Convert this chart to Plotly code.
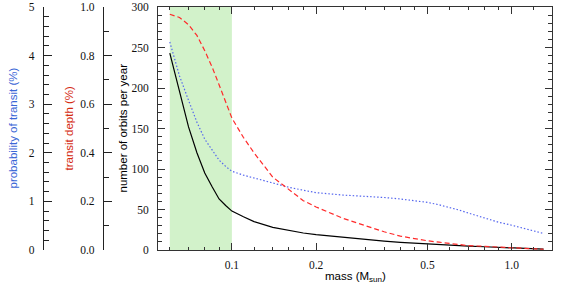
import plotly.graph_objects as go

# ---------------- data ----------------
mass = [0.06, 0.065, 0.07, 0.075, 0.08, 0.085, 0.09, 0.095, 0.1, 0.11, 0.12, 0.14, 0.16,
        0.18, 0.2, 0.25, 0.3, 0.35, 0.4, 0.45, 0.5, 0.55, 0.6, 0.65, 0.7, 0.8, 0.9, 1.0,
        1.1, 1.2, 1.3]

orbits_per_year = [243, 196, 152, 120, 95, 78, 63, 55, 48, 41, 35, 28, 24,
                   21, 19, 15.5, 13, 11, 9.5, 8.4, 7.5, 6.7, 6, 5.4, 4.8, 4, 3.2, 2.5,
                   2, 1.5, 1]

transit_depth = [0.970, 0.957, 0.927, 0.883, 0.820, 0.753, 0.680, 0.607, 0.543, 0.463, 0.400,
                 0.300, 0.248, 0.203, 0.177, 0.130, 0.100, 0.075, 0.057, 0.046, 0.038, 0.032,
                 0.027, 0.022, 0.018, 0.015, 0.011, 0.008, 0.007, 0.005, 0.003]

prob_transit = [4.28, 3.58, 3.08, 2.63, 2.28, 2.05, 1.85, 1.72, 1.62, 1.54, 1.48, 1.37, 1.29,
                1.23, 1.18, 1.13, 1.11, 1.08, 1.05, 1.02, 0.98, 0.93, 0.88, 0.82, 0.76, 0.66,
                0.57, 0.51, 0.45, 0.39, 0.34]

band = [0.06, 0.1]

x_major = [0.1, 0.2, 0.5, 1.0]
x_major_text = ["0.1", "0.2", "0.5", "1.0"]
x_minor = [0.06, 0.07, 0.08, 0.09, 0.12, 0.14, 0.16, 0.18, 0.25, 0.3, 0.35, 0.4, 0.45,
           0.6, 0.7, 0.8, 0.9, 1.2]

# ---------------- figure ----------------
W, H = 562, 288
ML, MR, MT, MB = 0, 10, 7, 38
PW = W - ML - MR
PH = H - MT - MB
plot_left = 158

def px(x):
    return (x - ML) / PW

def py(y):
    return (H - MB - y) / PH

tickfont = dict(family="Liberation Serif", size=11.5, color="#111")
titlefont = "Liberation Sans"

fig = go.Figure()

fig.add_vrect(x0=band[0], x1=band[1], fillcolor="#d2f2ca", line_width=0, layer="below")

fig.add_trace(go.Scatter(x=mass, y=orbits_per_year, mode="lines", yaxis="y",
                         line=dict(color="black", width=1.2), showlegend=False))
fig.add_trace(go.Scatter(x=mass, y=transit_depth, mode="lines", yaxis="y3",
                         line=dict(color="#ff2a2a", width=1.2, dash="5px,3px"), showlegend=False))
fig.add_trace(go.Scatter(x=mass, y=prob_transit, mode="lines", yaxis="y2",
                         line=dict(color="#5566ee", width=1.2, dash="1.5px,2px"), showlegend=False))

fig.update_layout(
    width=W, height=H,
    margin=dict(l=ML, r=MR, t=MT, b=MB),
    paper_bgcolor="white", plot_bgcolor="white",
    showlegend=False,
    xaxis=dict(
        type="log", range=[-1.264, 0.144], domain=[px(plot_left), 1],
        showline=True, linecolor="#333", linewidth=1, mirror="ticks",
        showgrid=False, zeroline=False,
        ticks="inside", ticklen=7, tickcolor="#333",
        tickvals=x_major, ticktext=x_major_text, tickfont=tickfont,
        ticklabelstandoff=4,
        minor=dict(tickvals=x_minor, ticks="inside", ticklen=3, tickcolor="#333", showgrid=False),
    ),
    yaxis=dict(
        range=[0, 300], showline=True, linecolor="#333", linewidth=1, mirror="ticks",
        showgrid=False, zeroline=False,
        ticks="inside", ticklen=7, tickcolor="#333", dtick=50, tickfont=tickfont,
        ticklabelstandoff=6,
        minor=dict(dtick=10, ticks="inside", ticklen=4, tickcolor="#333", showgrid=False),
    ),
    yaxis2=dict(
        range=[0, 5], overlaying="y", anchor="free", position=px(43), side="left",
        showline=True, linecolor="#222", linewidth=1.2,
        showgrid=False, zeroline=False,
        ticks="inside", ticklen=8, tickcolor="#222", dtick=1, tickfont=tickfont,
        ticklabelstandoff=6,
        minor=dict(dtick=0.2, ticks="inside", ticklen=5, tickcolor="#222", showgrid=False),
    ),
    yaxis3=dict(
        range=[0, 1], overlaying="y", anchor="free", position=px(103), side="left",
        showline=True, linecolor="#222", linewidth=1.2,
        showgrid=False, zeroline=False,
        ticks="inside", ticklen=8, tickcolor="#222", dtick=0.2, tickformat=".1f",
        tickfont=tickfont, ticklabelstandoff=6,
        minor=dict(dtick=0.1, ticks="inside", ticklen=5, tickcolor="#222", showgrid=False),
    ),
)

ann = [
    dict(text="probability of transit (%)", x=px(12), y=0.5, color="#3a66d6"),
    dict(text="transit depth (%)", x=px(68), y=0.5, color="#d42a10"),
    dict(text="number of orbits per year", x=px(122), y=0.5, color="black"),
]
for a in ann:
    fig.add_annotation(text=a["text"], x=a["x"], y=a["y"], xref="paper", yref="paper",
                       showarrow=False, textangle=-90, xanchor="center", yanchor="middle",
                       font=dict(family=titlefont, size=11.5, color=a["color"]))

fig.add_annotation(text="mass (M<sub>sun</sub>)", x=px(355), y=py(277), xref="paper", yref="paper",
                   showarrow=False, xanchor="center", yanchor="middle",
                   font=dict(family=titlefont, size=11.5, color="black"))

fig.write_html("out.html", config={"displayModeBar": False},
               post_script="document.body.style.margin='0';")
